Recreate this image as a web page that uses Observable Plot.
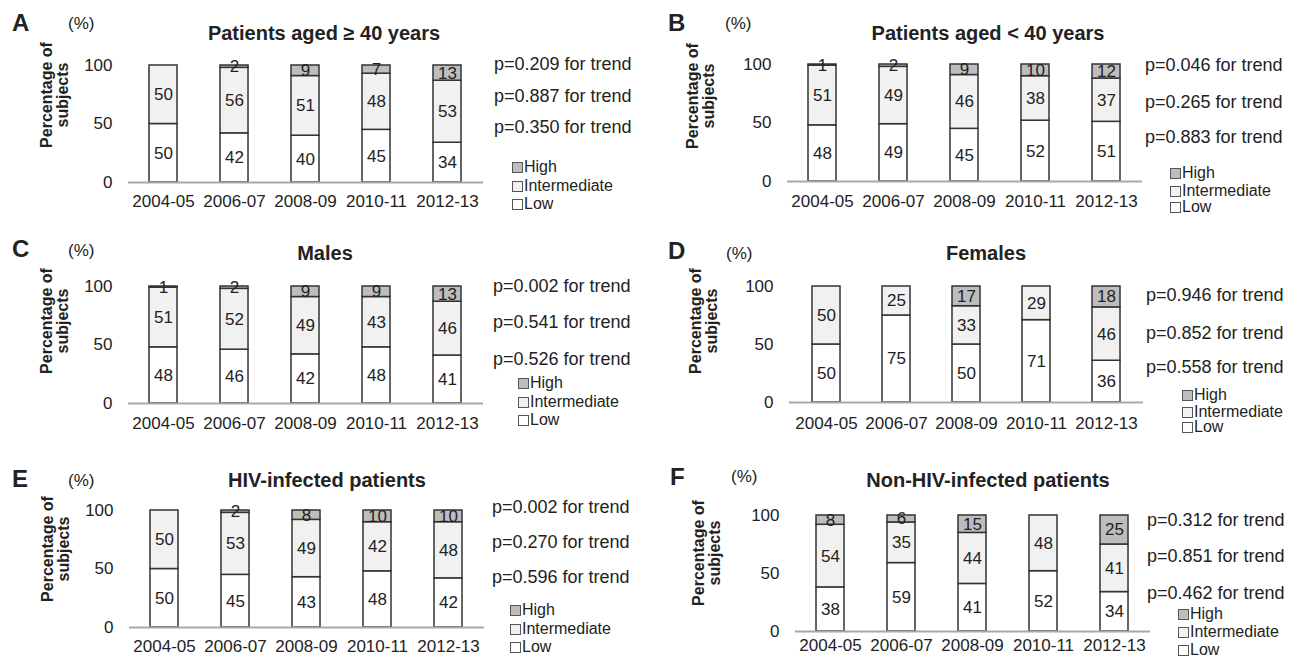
<!DOCTYPE html>
<html><head><meta charset="utf-8">
<script src="https://cdn.jsdelivr.net/npm/d3@7"></script>
<script src="https://cdn.jsdelivr.net/npm/@observablehq/plot@0.6"></script>
<style>
html,body{margin:0;padding:0;background:#fff;}
#root{position:relative;width:1307px;height:658px;overflow:hidden;font-family:"Liberation Sans",Arial,sans-serif;color:#222;}
.t{position:absolute;white-space:nowrap;line-height:1;}
.plot{position:absolute;overflow:visible;}
.sq{position:absolute;width:9px;height:9px;border:1px solid #555;box-sizing:content-box;}
</style></head><body><div id="root"></div>
<script>
// ---- data ----
const periods = ["2004-05","2006-07","2008-09","2010-11","2012-13"];
const levels = ["Low","Intermediate","High"];
const legendOrder = ["High","Intermediate","Low"];
const letters = ["A","B","C","D","E","F"];
const titles = ["Patients aged \u2265 40 years","Patients aged < 40 years","Males","Females","HIV-infected patients","Non-HIV-infected patients"];

const lowA = [50,42,40,45,34], interA = [50,56,51,48,53], highA = [0,2,9,7,13];
const lowB = [48,49,45,52,51], interB = [51,49,46,38,37], highB = [1,2,9,10,12];
const lowC = [48,46,42,48,41], interC = [51,52,49,43,46], highC = [1,2,9,9,13];
const lowD = [50,75,50,71,36], interD = [50,25,33,29,46], highD = [0,0,17,0,18];
const lowE = [50,45,43,48,42], interE = [50,53,49,42,48], highE = [0,2,8,10,10];
const lowF = [38,59,41,52,34], interF = [54,35,44,48,41], highF = [8,6,15,0,25];

const pA = ["0.209","0.887","0.350"];
const pB = ["0.046","0.265","0.883"];
const pC = ["0.002","0.541","0.526"];
const pD = ["0.946","0.852","0.558"];
const pE = ["0.002","0.270","0.596"];
const pF = ["0.312","0.851","0.462"];

// ---- styling / layout ----
const fills = ["#ffffff","#f1f1f1","#bdbdbd"];
const layout = [
  {left:0,top:0,w:650,h:215,x0:128,x1:483,yTop:65,yBase:182,pad:12,letter:[12,23],pct:[68,23],title:[324,33],ytitle:[55,95],px:494,py:[64,95.5,127],lx:512,ly:[167,186,204]},
  {left:650,top:0,w:657,h:215,x0:787,x1:1142,yTop:64,yBase:181,pad:13,letter:[668,23],pct:[725,23],title:[988,33],ytitle:[701,96],px:1145,py:[65,102,137],lx:1170,ly:[173,191,207]},
  {left:0,top:215,w:650,h:220,x0:128,x1:483,yTop:286,yBase:403,pad:13,letter:[12,249],pct:[68,250],title:[325,253],ytitle:[55,321],px:493,py:[286,322,359],lx:518,ly:[383,402,420]},
  {left:650,top:215,w:657,h:220,x0:789,x1:1143,yTop:286,yBase:402,pad:14,letter:[668,251],pct:[726,253],title:[986,253],ytitle:[704,321],px:1146,py:[295,333,367],lx:1182,ly:[395,412,427]},
  {left:0,top:435,w:650,h:223,x0:129,x1:484,yTop:510,yBase:627,pad:12,letter:[12,479],pct:[68,480],title:[327,480],ytitle:[56,549],px:492,py:[507,542,577],lx:510,ly:[610,629,647]},
  {left:650,top:435,w:657,h:223,x0:795,x1:1150,yTop:515,yBase:631,pad:7,letter:[670,477],pct:[731,476],title:[988,480],ytitle:[707,553],px:1147,py:[520,556,593],lx:1178,ly:[614,632,650]}
];
const series = [[lowA,interA,highA],[lowB,interB,highB],[lowC,interC,highC],[lowD,interD,highD],[lowE,interE,highE],[lowF,interF,highF]];
const pvals = [pA,pB,pC,pD,pE,pF];

const root = document.getElementById("root");
function txt(str, x, y, {size=17, weight="normal", anchor="start"}={}) {
  const d = document.createElement("div");
  d.className = "t";
  d.textContent = str;
  d.style.left = x + "px";
  d.style.top = y + "px";
  d.style.fontSize = size + "px";
  d.style.fontWeight = weight;
  const tx = anchor === "middle" ? "-50%" : anchor === "end" ? "-100%" : "0";
  d.style.transform = `translate(${tx},-50%)`;
  root.appendChild(d);
  return d;
}

layout.forEach((c, k) => {
  const [low, inter, high] = series[k];
  const rows = [];
  periods.forEach((p, i) => {
    rows.push({period:p, level:"Low", value:low[i]});
    rows.push({period:p, level:"Intermediate", value:inter[i]});
    rows.push({period:p, level:"High", value:high[i]});
  });
  const nz = rows.filter(d => d.value > 0);
  const plot = Plot.plot({
    width: c.w, height: c.h,
    marginLeft: c.x0 - c.left, marginRight: c.left + c.w - c.x1,
    marginTop: c.yTop - c.top, marginBottom: c.top + c.h - c.yBase,
    x: {domain: periods, paddingInner: 0.6, paddingOuter: 0.3, tickSize: 0, tickPadding: c.pad, label: null},
    y: {domain: [0, 100], ticks: [0, 50, 100], tickSize: 0, tickPadding: 16, label: null},
    color: {domain: levels, range: fills},
    style: {fontFamily: '"Liberation Sans", Arial, sans-serif', fontSize: "17px", color: "#222", background: "transparent", overflow: "visible"},
    marks: [
      Plot.barY(nz, {x: "period", y: "value", z: "level", fill: "level", stroke: "#333", strokeWidth: 1.5}),
      Plot.ruleY([0], {stroke: "#a8a8a8", strokeWidth: 2}),
      Plot.text(nz, Plot.stackY({x: "period", y: "value", z: "level", text: "value", fill: "#222", fontSize: 17}))
    ]
  });
  plot.classList.add("plot");
  plot.style.left = c.left + "px";
  plot.style.top = c.top + "px";
  root.appendChild(plot);

  txt(letters[k], c.letter[0], c.letter[1], {size: 24, weight: "bold"});
  txt("(%)", c.pct[0], c.pct[1], {size: 17});
  txt(titles[k], c.title[0], c.title[1], {size: 20, weight: "bold", anchor: "middle"});
  const yt = document.createElement("div");
  yt.className = "t";
  yt.innerHTML = "Percentage of<br>subjects";
  yt.style.cssText += `left:${c.ytitle[0]}px;top:${c.ytitle[1]}px;font-size:16px;font-weight:bold;line-height:16px;text-align:center;transform:translate(-50%,-50%) rotate(-90deg);`;
  root.appendChild(yt);
  pvals[k].forEach((p, i) => txt(`p=${p} for trend`, c.px, c.py[i], {size: 18}));
  legendOrder.forEach((lv, i) => {
    const s = document.createElement("div");
    s.className = "sq";
    s.style.left = c.lx + "px";
    s.style.top = (c.ly[i] - 5) + "px";
    s.style.background = fills[levels.indexOf(lv)];
    root.appendChild(s);
    txt(lv, c.lx + 12, c.ly[i], {size: 16});
  });
});
</script>
</body></html>
